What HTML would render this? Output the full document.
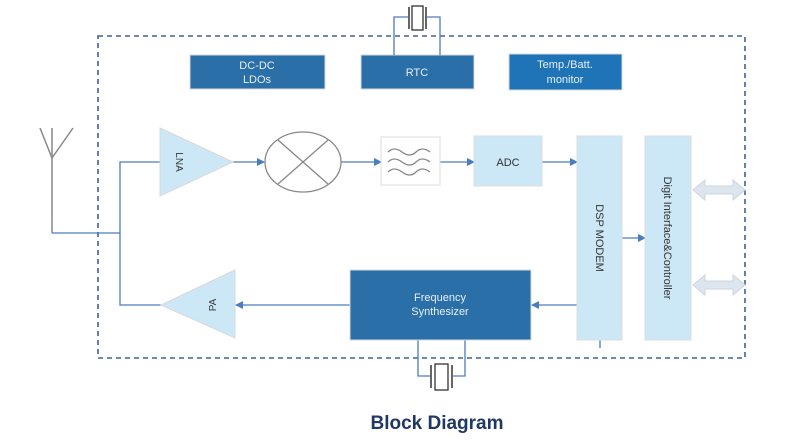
<!DOCTYPE html>
<html><head><style>
html,body{margin:0;padding:0;background:#fff;width:800px;height:441px;overflow:hidden}
svg text{font-family:"Liberation Sans",sans-serif}
</style></head><body>
<svg width="800" height="441" viewBox="0 0 800 441" xmlns="http://www.w3.org/2000/svg">
<defs>
<marker id="a" markerWidth="8" markerHeight="8" refX="7" refY="4" orient="auto" markerUnits="userSpaceOnUse">
<path d="M0,0 L8,4 L0,8 z" fill="#4a7dbf"/></marker>
</defs>
<!-- dashed boundary -->
<rect x="98" y="36" width="647" height="322" fill="none" stroke="#3d6197" stroke-width="1.6" stroke-dasharray="5,4"/>
<!-- top blocks -->
<rect x="190" y="55" width="135" height="34" fill="#2a6fa8" stroke="#d8d8d8"/>
<text x="257" y="69" fill="#e8f0f8" font-size="11" text-anchor="middle">DC-DC</text>
<text x="257" y="83" fill="#e8f0f8" font-size="11" text-anchor="middle">LDOs</text>
<rect x="361" y="55" width="113" height="34" fill="#2a6fa8" stroke="#d8d8d8"/>
<text x="417" y="76" fill="#e8f0f8" font-size="11" text-anchor="middle">RTC</text>
<rect x="509" y="54" width="113" height="36" fill="#1f74b8" stroke="#d8d8d8"/>
<text x="565" y="68" fill="#e8f0f8" font-size="11" text-anchor="middle">Temp./Batt.</text>
<text x="565" y="83" fill="#e8f0f8" font-size="11" text-anchor="middle">monitor</text>
<!-- top crystal -->
<polyline points="394,55 394,17 408,17" fill="none" stroke="#4a7dbf" stroke-width="1.3"/>
<polyline points="440,55 440,17 427,17" fill="none" stroke="#4a7dbf" stroke-width="1.3"/>
<line x1="409" y1="7" x2="409" y2="29" stroke="#333" stroke-width="1.5"/>
<line x1="426" y1="7" x2="426" y2="29" stroke="#333" stroke-width="1.5"/>
<rect x="412" y="6" width="11" height="24" fill="#fff" stroke="#333" stroke-width="1.3"/>
<!-- antenna -->
<g stroke="#888" stroke-width="1.5" fill="none">
<line x1="52" y1="128" x2="52" y2="233"/>
<line x1="40" y1="128" x2="52" y2="158"/>
<line x1="73" y1="128" x2="52" y2="158"/>
</g>
<g stroke="#4a7dbf" stroke-width="1.3" fill="none">
<line x1="52" y1="233" x2="120" y2="233"/>
<polyline points="160,162 120,162 120,305 161,305"/>
<line x1="233" y1="162" x2="264" y2="162" marker-end="url(#a)"/>
<line x1="341" y1="162" x2="381" y2="162" marker-end="url(#a)"/>
<line x1="440" y1="162" x2="474" y2="162" marker-end="url(#a)"/>
<line x1="542" y1="162" x2="577" y2="162" marker-end="url(#a)"/>
<line x1="622" y1="238" x2="645" y2="238" marker-end="url(#a)"/>
<line x1="577" y1="305" x2="532" y2="305" marker-end="url(#a)"/>
<line x1="350" y1="305" x2="236" y2="305" marker-end="url(#a)"/>
<line x1="600" y1="340" x2="600" y2="348"/>
<polyline points="418,340 418,376 430,376"/>
<polyline points="465,340 465,376 453,376"/>
</g>
<!-- LNA -->
<polygon points="160,128 233,162 160,196" fill="#cce8f7" stroke="#d8d8d8"/>
<text transform="translate(176,162) rotate(90)" font-size="10" fill="#333" text-anchor="middle">LNA</text>
<!-- mixer -->
<ellipse cx="303" cy="162" rx="38" ry="30" fill="#fff" stroke="#888" stroke-width="1.3"/>
<line x1="278" y1="140" x2="328" y2="184" stroke="#888" stroke-width="1.3"/>
<line x1="278" y1="184" x2="328" y2="140" stroke="#888" stroke-width="1.3"/>
<!-- filter -->
<rect x="381" y="137" width="59" height="48" fill="#fff" stroke="#ddd"/>
<g stroke="#888" stroke-width="1.3" fill="none">
<path d="M388,152 q6,-6 14,0 t14,0 t14,0"/>
<path d="M388,162 q6,-6 14,0 t14,0 t14,0"/>
<path d="M388,172 q6,-6 14,0 t14,0 t14,0"/>
</g>
<!-- ADC -->
<rect x="474" y="136" width="68" height="50" fill="#cce8f7" stroke="#ddd"/>
<text x="508" y="166" font-size="11" fill="#333" text-anchor="middle">ADC</text>
<!-- DSP -->
<rect x="577" y="136" width="45" height="204" fill="#cce8f7" stroke="#ddd"/>
<text transform="translate(596,238) rotate(90)" font-size="11" fill="#333" text-anchor="middle">DSP MODEM</text>
<!-- Digit -->
<rect x="645" y="136" width="46" height="204" fill="#cce8f7" stroke="#ddd"/>
<text transform="translate(664,238) rotate(90)" font-size="11" fill="#333" text-anchor="middle">Digit Interface&amp;Controller</text>
<!-- double arrows -->
<polygon points="693,190 705,180 705,186 733,186 733,180 745,190 733,200 733,194 705,194 705,200" fill="#dde5ef" stroke="#ccd6e2"/>
<polygon points="693,285 705,275 705,281 733,281 733,275 745,285 733,295 733,289 705,289 705,295" fill="#dde5ef" stroke="#ccd6e2"/>
<!-- Freq synth -->
<rect x="350" y="270" width="181" height="70" fill="#2a6fa8" stroke="#d8d8d8"/>
<text x="440" y="301" fill="#e8f0f8" font-size="11" text-anchor="middle">Frequency</text>
<text x="440" y="315" fill="#e8f0f8" font-size="11" text-anchor="middle">Synthesizer</text>
<!-- PA -->
<polygon points="235,270 161,305 235,338" fill="#cce8f7" stroke="#d8d8d8"/>
<text transform="translate(216,305) rotate(-90)" font-size="10" fill="#333" text-anchor="middle">PA</text>
<!-- bottom crystal -->
<line x1="431" y1="365" x2="431" y2="388" stroke="#333" stroke-width="1.5"/>
<line x1="452" y1="365" x2="452" y2="388" stroke="#333" stroke-width="1.5"/>
<rect x="435" y="364" width="13" height="26" fill="#fff" stroke="#333" stroke-width="1.3"/>
<text x="437" y="429" font-size="19" font-weight="bold" fill="#1f3864" text-anchor="middle">Block Diagram</text>
</svg>
</body></html>
